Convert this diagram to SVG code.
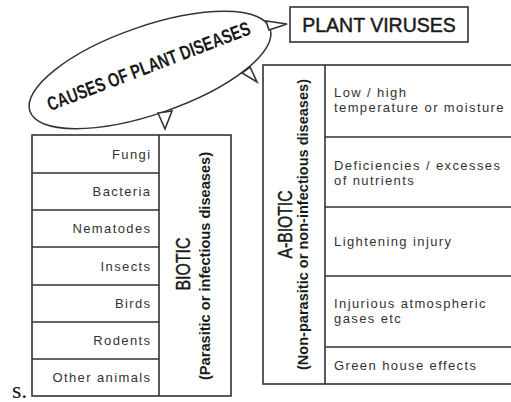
<svg xmlns="http://www.w3.org/2000/svg" width="511" height="402" viewBox="0 0 511 402">
<style>
.ln{fill:none;stroke:#333;stroke-width:1.6}
.box{fill:#fff;stroke:#333;stroke-width:1.6}
.cell{font-family:"Liberation Sans",Arial,sans-serif;font-size:13px;fill:#333;letter-spacing:1.4px}
.head{font-family:"Liberation Sans",Arial,sans-serif;fill:#1a1a1a;stroke:#1a1a1a;stroke-width:0.45}
.sub{font-family:"Liberation Sans",Arial,sans-serif;font-weight:bold;fill:#1a1a1a}
</style>
<rect width="511" height="402" fill="#fff"/>
<g id="causes">
<ellipse cx="150" cy="70" rx="127" ry="44" transform="rotate(-19 150 70)" fill="#fff" stroke="#333" stroke-width="1.5"/>
<text class="head" font-size="19.5" textLength="216" lengthAdjust="spacingAndGlyphs" transform="translate(151,72.5) rotate(-21)" text-anchor="middle" x="0" y="0" style="font-weight:bold;stroke-width:0">CAUSES OF PLANT DISEASES</text>
</g>
<g id="connectors">
<polygon points="158,113 172,111 165,129" class="box" stroke-width="1.3"/>
<polygon points="242,73 250,67 257,82" class="box" stroke-width="1.3"/>
<polygon points="266,21 269,30 287,24" class="box" stroke-width="1.3"/>
</g>
<g id="plant-viruses">
<rect x="290" y="7" width="178" height="35" class="box"/>
<text class="head" x="379" y="32" font-size="19.5" text-anchor="middle">PLANT VIRUSES</text>
</g>
<g id="biotic">
<rect x="32" y="135" width="199" height="261" class="box"/>
<path class="ln" d="M159 135V396M32 173H159M32 210H159M32 247H159M32 285H159M32 322H159M32 359H159"/>
<g class="cell" text-anchor="end">
<text x="151.5" y="158.5">Fungi</text>
<text x="151.5" y="196">Bacteria</text>
<text x="151.5" y="233">Nematodes</text>
<text x="151.5" y="270.5">Insects</text>
<text x="151.5" y="308">Birds</text>
<text x="151.5" y="345">Rodents</text>
<text x="151.5" y="382">Other animals</text>
</g>
<text class="head" font-size="20" textLength="53" lengthAdjust="spacingAndGlyphs" transform="translate(190,264) rotate(-90)" text-anchor="middle">BIOTIC</text>
<text class="sub" font-size="14.5" textLength="228" lengthAdjust="spacingAndGlyphs" transform="translate(210,266) rotate(-90)" text-anchor="middle">(Parasitic or infectious diseases)</text>
</g>
<g id="abiotic">
<rect x="263" y="65" width="260" height="319" class="box"/>
<path class="ln" d="M325 65V384M325 137H523M325 207H523M325 276H523M325 347H523"/>
<g class="cell">
<text x="334" y="97">Low / high</text>
<text x="334" y="112">temperature or moisture</text>
<text x="334" y="170">Deficiencies / excesses</text>
<text x="334" y="185">of nutrients</text>
<text x="334" y="246">Lightening injury</text>
<text x="334" y="308">Injurious atmospheric</text>
<text x="334" y="323">gases etc</text>
<text x="334" y="370">Green house effects</text>
</g>
<text class="head" font-size="20" textLength="68" lengthAdjust="spacingAndGlyphs" transform="translate(292,224.5) rotate(-90)" text-anchor="middle">A-BIOTIC</text>
<text class="sub" font-size="14.5" textLength="291" lengthAdjust="spacingAndGlyphs" transform="translate(308,224.5) rotate(-90)" text-anchor="middle">(Non-parasitic or non-infectious diseases)</text>
</g>
<text x="12" y="398" font-family="'Liberation Serif','Times New Roman',serif" font-size="24" fill="#111">s.</text>
</svg>
